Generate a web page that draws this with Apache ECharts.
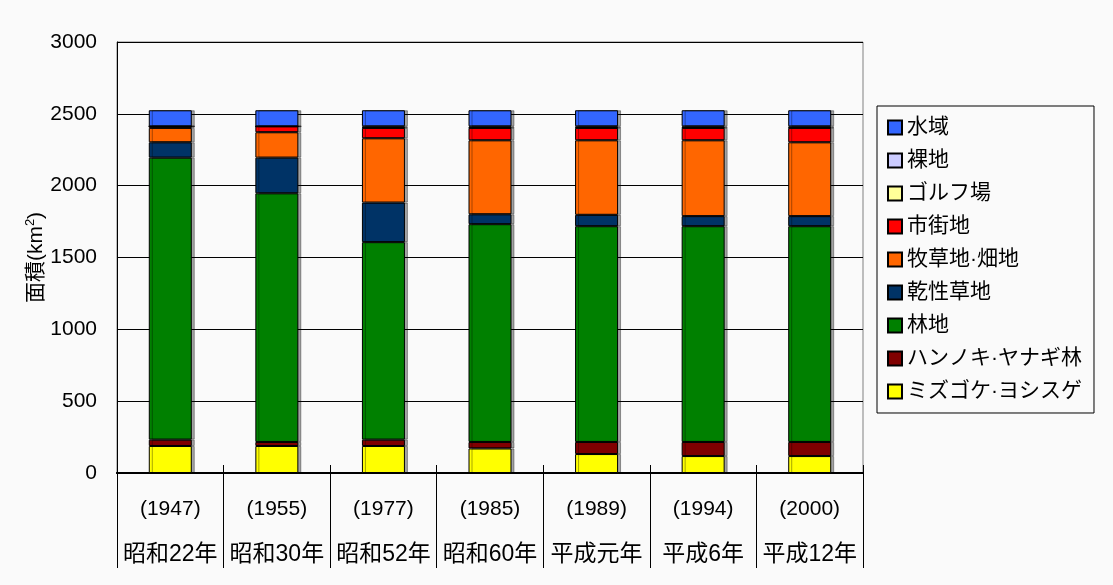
<!DOCTYPE html>
<html>
<head>
<meta charset="utf-8">
<script src="https://cdn.jsdelivr.net/npm/echarts@6/dist/echarts.min.js"></script>
<style>
  html, body { margin: 0; padding: 0; background: #fafafa; }
  #chart { width: 1113px; height: 585px; }
</style>
</head>
<body>
<div id="chart"></div>
<script>
// 年次（西暦・和暦）
const years = ['(1947)', '(1955)', '(1977)', '(1985)', '(1989)', '(1994)', '(2000)'];
const eras = ['昭和22年', '昭和30年', '昭和52年', '昭和60年', '平成元年', '平成6年', '平成12年'];

// 面積 (km2)  下から積み上げ順
const moss = [188, 188, 188, 171, 132, 118, 118];       // ミズゴケ・ヨシスゲ
const alder = [44, 28, 44, 45, 84, 98, 98];             // ハンノキ・ヤナギ林
const forest = [1963, 1731, 1375, 1516, 1502, 1502, 1502]; // 林地
const dryGrass = [107, 248, 275, 69, 79, 70, 70];       // 乾性草地
const pasture = [100, 177, 448, 515, 519, 528, 514];    // 牧草地・畑地
const urban = [11, 41, 72, 86, 86, 86, 100];            // 市街地
const golf = [0, 0, 3, 3, 3, 3, 3];                     // ゴルフ場
const bare = [0, 0, 8, 8, 8, 8, 8];                     // 裸地
const water = [112, 112, 112, 112, 112, 112, 112];      // 水域

const yTicks = { min: 0, max: 3000, interval: 500 };

const FONT = '"Liberation Sans", Arial, "Noto Sans CJK JP", sans-serif';

// 系列定義（名前, データ, 色）
const layers = [
  ['ミズゴケ·ヨシスゲ', moss, '#FFFF00'],
  ['ハンノキ·ヤナギ林', alder, '#800000'],
  ['林地', forest, '#008000'],
  ['乾性草地', dryGrass, '#003366'],
  ['牧草地·畑地', pasture, '#FF6600'],
  ['市街地', urban, '#FF0000'],
  ['ゴルフ場', golf, '#FFFF99'],
  ['裸地', bare, '#CCCCFF'],
  ['水域', water, '#3366FF']
];

const chart = echarts.init(document.getElementById('chart'));

const option = {
  backgroundColor: '#fafafa',
  animation: false,
  textStyle: { fontFamily: FONT },
  grid: {
    left: 117, top: 42, right: 250, bottom: 112,
    show: true, borderColor: '#808080', borderWidth: 1, backgroundColor: 'transparent'
  },
  legend: {
    orient: 'vertical',
    left: 877, top: 106,
    data: layers.map(l => l[0]).reverse(),
    icon: 'rect',
    itemWidth: 14, itemHeight: 14, itemGap: 12,
    padding: [11, 12, 11, 10],
    borderColor: '#000', borderWidth: 1,
    textStyle: { fontSize: 21, color: '#000', fontFamily: FONT }
  },
  xAxis: [
    {
      type: 'category',
      data: years,
      axisLine: { lineStyle: { color: '#000', width: 2 } },
      axisTick: { show: true, inside: true, length: 8, lineStyle: { color: '#000' } },
      axisLabel: { show: false }
    },
    {
      // 下の年次表（区切り線とラベル）
      type: 'category',
      data: years,
      position: 'bottom',
      axisLine: { show: true, lineStyle: { color: '#000', width: 2 } },
      axisTick: { show: true, inside: false, length: 95, lineStyle: { color: '#000' } },
      axisLabel: {
        margin: 24,
        interval: 0,
        formatter: (v, i) => '{a|' + v + '}\n{s| }\n{b|' + eras[i] + '}',
        rich: {
          a: { fontSize: 21, lineHeight: 25, color: '#000', fontFamily: FONT },
          s: { fontSize: 10, lineHeight: 20 },
          b: { fontSize: 23, lineHeight: 25, color: '#000', fontFamily: FONT }
        }
      }
    }
  ],
  yAxis: {
    type: 'value',
    min: yTicks.min, max: yTicks.max, interval: yTicks.interval,
    name: '面積(km{sup|2})',
    nameLocation: 'middle',
    nameGap: 68,
    nameMoveOverlap: false,
    nameTextStyle: {
      fontSize: 21, color: '#000', fontFamily: FONT,
      rich: { sup: { fontSize: 13, padding: [0, 0, 12, 0], fontFamily: FONT, color: '#000' } }
    },
    axisLine: { show: true, lineStyle: { color: '#000', width: 1 } },
    axisTick: { show: true, inside: true, length: 6, lineStyle: { color: '#000' } },
    axisLabel: { fontSize: 21, color: '#000', margin: 20, fontFamily: FONT, formatter: v => String(v) },
    splitLine: { lineStyle: { color: '#000', width: 1 } }
  },
  series: layers.map(l => ({
    name: l[0],
    type: 'bar',
    stack: 'area',
    xAxisIndex: 0,
    barWidth: 43,
    data: l[1],
    itemStyle: {
      color: l[2],
      borderColor: '#000',
      borderWidth: 1,
      shadowColor: 'rgba(0,0,0,0.35)',
      shadowOffsetX: 3,
      shadowOffsetY: 0
    }
  }))
};

chart.setOption(option);
</script>
</body>
</html>
